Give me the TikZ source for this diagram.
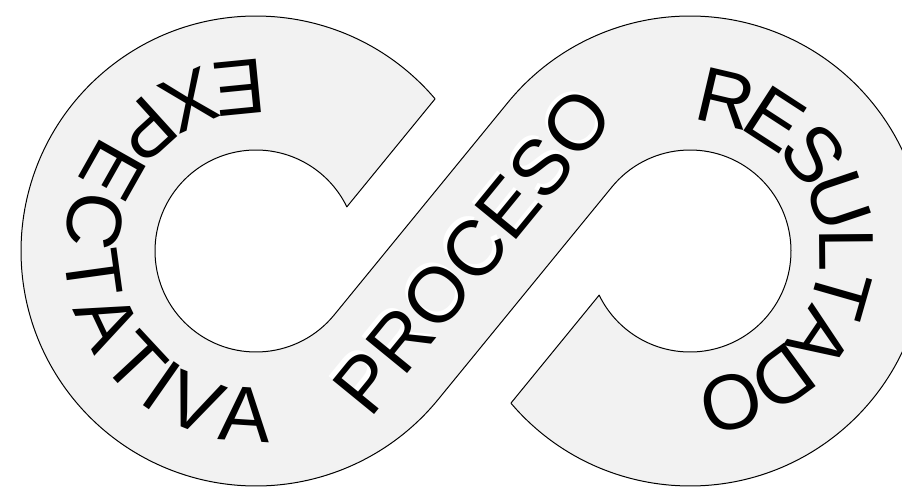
\documentclass[tikz,border=0pt]{standalone}
\usepackage{fontspec}
\setmainfont{Liberation Sans}
\usetikzlibrary{decorations.text}
\definecolor{bandgray}{RGB}{242,242,242}
\newcommand\loopfont{\fontsize{78}{80}\selectfont}

\begin{document}
\begin{tikzpicture}[x=1pt,y=1pt,line width=1pt]
\path[use as bounding box] (0,0) rectangle (902,488);
\clip (0,0) rectangle (902,488);
\coordinate (L) at (256,237);
\coordinate (R) at (690,237);
% the band: left loop, crossing strip, right loop
\filldraw[fill=bandgray,line join=round] ([shift={(40.35:235)}]L) arc[start angle=40.35,end angle=320.74,radius=235]
  -- ([shift={(140.74:101)}]R) arc[start angle=140.74,end angle=-154.08,radius=101]
  -- ([shift={(-139.65:235)}]R) arc[start angle=-139.65,end angle=140.74,radius=235]
  -- ([shift={(320.74:101)}]L) arc[start angle=320.74,end angle=25.92,radius=101]
  -- cycle;
% labels, white ghost first
\foreach \c/\dx/\dy in {white/-3.5/3.5,black/0/0}{
  \begin{scope}[shift={(\dx,\dy)}]
  \path[decorate,decoration={text along path,text color=\c,text align=center,raise=-28pt,
      text={|\loopfont|EXPECTATIVA}}]
    ([shift={(83:163)}]L) arc[start angle=83,end angle=279,radius=163];
  \path[decorate,decoration={text along path,text color=\c,text align=center,raise=-28pt,
      text={|\loopfont|RESULTADO}}]
    ([shift={(88:158)}]R) arc[start angle=88,end angle=-87,radius=158];
  \node[text=\c,rotate=50.74,font=\loopfont,inner sep=0pt] (proceso-\c) at (473,237) {PROCESO};
  \end{scope}
}
\end{tikzpicture}
\end{document}
